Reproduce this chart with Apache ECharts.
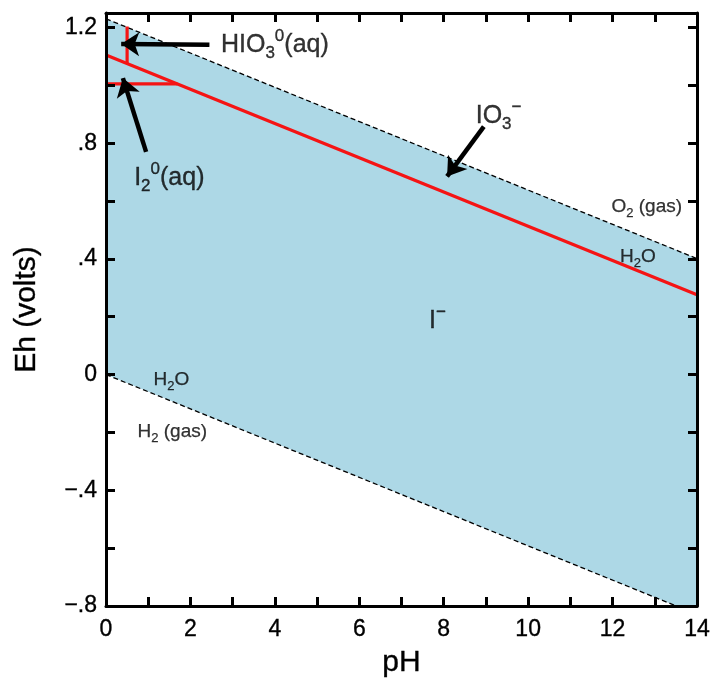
<!DOCTYPE html>
<html>
<head>
<meta charset="utf-8">
<script src="https://cdn.jsdelivr.net/npm/echarts@6/dist/echarts.min.js"></script>
<style>
html,body{margin:0;padding:0;background:#fff;}
#chart{width:710px;height:678px;}
</style>
</head>
<body>
<div id="chart"></div>
<script>
// ---- data ----
const phEnds = [0, 14];                 // pH at the two ends of straight boundaries
const o2WaterEh = [1.23, 0.401];        // upper water stability limit (O2/H2O)
const h2WaterEh = [0, -0.829];          // lower water stability limit (H2O/H2)
const redMainPh = [0, 14];
const redMainEh = [1.105, 0.276];       // IO3- / I- boundary
const redHorizPh = [0, 1.69];
const redHorizEh = [1.005, 1.005];      // I2(aq) boundary
const redVertPh = [0.5, 0.5];
const redVertEh = [1.075, 1.203];       // HIO3 / IO3- boundary
const xTicks = [0, 2, 4, 6, 8, 10, 12, 14];
const arrowHIO3 = [[2.45, 1.14], [0.36, 1.143]];
const arrowI2 = [[0.95, 0.77], [0.4, 1.025]];
const arrowIO3 = [[8.95, 0.857], [8.08, 0.685]];
const bigLabels = [
  [4.0, 1.14, 'HIO{sub|3}{sup|0}(aq)'],
  [1.5, 0.68, 'I{sub|2}{sup|0}(aq)'],
  [9.3, 0.893, 'IO{sub|3}{sup|−}'],
  [7.85, 0.185, 'I{sup|−}']
];
const smallLabels = [
  [12.81, 0.58, 'O{ssub|2} (gas)'],
  [12.6, 0.408, 'H{ssub|2}O'],
  [1.55, -0.017, 'H{ssub|2}O'],
  [1.57, -0.197, 'H{ssub|2} (gas)']
];

// ---- build ----
const FONT = 'Liberation Sans, Arial, Helvetica, sans-serif';
const fillColor = '#add8e6';
const redColor = '#f51414';
const TB = { textBorderColor: '#000', textBorderWidth: 0.35 };

function pairs(xs, ys) { return xs.map((x, i) => [x, ys[i]]); }

function fmtY(v) {
  const k = v / 0.4;
  if (Math.abs(k - Math.round(k)) > 1e-6) return '';
  if (v > 1.21) return '';
  if (Math.abs(v) < 1e-9) return '0';
  const s = Math.abs(v).toFixed(1).replace(/^0/, '');
  return (v < 0 ? '\u2212' : '') + s;
}

const tickStyle = { show: true, inside: true, length: 9, lineStyle: { color: '#000', width: 3 } };
const lineStyle = { show: true, onZero: false, lineStyle: { color: '#000', width: 3 } };

const richBig = {
  n: Object.assign({ fontSize: 25, fontFamily: FONT, color: '#000', verticalAlign: 'middle', lineHeight: 34 }, TB),
  sub: Object.assign({ fontSize: 17, fontFamily: FONT, color: '#000', verticalAlign: 'bottom', lineHeight: 34 }, TB),
  sup: Object.assign({ fontSize: 17, fontFamily: FONT, color: '#000', verticalAlign: 'top', lineHeight: 34 }, TB)
};
const richSmall = {
  s: Object.assign({ fontSize: 19, fontFamily: FONT, color: '#000', verticalAlign: 'middle', lineHeight: 26 }, TB, { textBorderWidth: 0.25 }),
  ssub: Object.assign({ fontSize: 13, fontFamily: FONT, color: '#000', verticalAlign: 'bottom', lineHeight: 26 }, TB, { textBorderWidth: 0.25 })
};

function wrapRich(str, base) {
  return str.split(/(\{[a-z]+\|[^}]*\})/).filter(s => s.length).map(s =>
    s.startsWith('{') ? s : '{' + base + '|' + s + '}').join('');
}

const arrowLine = (pts) => [{ coord: pts[0] }, { coord: pts[1] }];

const chart = echarts.init(document.getElementById('chart'), null, { renderer: 'canvas' });
chart.setOption({
  backgroundColor: '#fff',
  animation: false,
  grid: { left: 106, right: 13, top: 13, bottom: 72, containLabel: false, outerBoundsMode: 'none' },
  xAxis: [
    {
      type: 'value', min: 0, max: 14, interval: 1, position: 'bottom', z: 10,
      axisLine: lineStyle, axisTick: tickStyle, splitLine: { show: false },
      axisLabel: Object.assign({
        color: '#000', fontSize: 23, fontFamily: FONT, margin: 12,
        formatter: v => xTicks.indexOf(v) >= 0 ? String(v) : ''
      }, TB),
      name: 'pH', nameLocation: 'middle', nameGap: 42,
      nameTextStyle: Object.assign({ color: '#000', fontSize: 30, fontFamily: FONT }, TB)
    },
    {
      type: 'value', min: 0, max: 14, interval: 1, position: 'top', z: 10,
      axisLine: lineStyle, axisTick: tickStyle, splitLine: { show: false },
      axisLabel: { show: false }
    }
  ],
  yAxis: [
    {
      type: 'value', min: -0.8, max: 1.25, interval: 0.2, position: 'left', z: 10,
      axisLine: lineStyle, axisTick: tickStyle, splitLine: { show: false },
      axisLabel: Object.assign({ color: '#000', fontSize: 23, fontFamily: FONT, margin: 9, formatter: fmtY }, TB),
      name: 'Eh (volts)', nameLocation: 'middle', nameGap: 64,
      nameTextStyle: Object.assign({ color: '#000', fontSize: 30, fontFamily: FONT }, TB)
    },
    {
      type: 'value', min: -0.8, max: 1.25, interval: 0.2, position: 'right', z: 10,
      axisLine: lineStyle, axisTick: tickStyle, splitLine: { show: false },
      axisLabel: { show: false }
    }
  ],
  series: [
    {
      type: 'line', data: pairs(phEnds, o2WaterEh), symbol: 'none', z: 1, silent: true,
      lineStyle: { width: 0 },
      areaStyle: { color: fillColor, opacity: 1, origin: 'start' }
    },
    {
      type: 'line', data: pairs(phEnds, h2WaterEh), symbol: 'none', z: 1.5, silent: true,
      lineStyle: { width: 0 },
      areaStyle: { color: '#fff', opacity: 1, origin: 'start' }
    },
    {
      type: 'line', data: pairs(phEnds, o2WaterEh), symbol: 'none', z: 2, silent: true,
      lineStyle: { color: '#000', width: 1.3, type: [5, 3] }
    },
    {
      type: 'line', data: pairs(phEnds, h2WaterEh), symbol: 'none', z: 2, silent: true,
      lineStyle: { color: '#000', width: 1.3, type: [5, 3] }
    },
    { type: 'line', data: pairs(redMainPh, redMainEh), symbol: 'none', z: 3, lineStyle: { color: redColor, width: 3.2 } },
    { type: 'line', data: pairs(redHorizPh, redHorizEh), symbol: 'none', z: 3, lineStyle: { color: redColor, width: 3.2 } },
    { type: 'line', data: pairs(redVertPh, redVertEh), symbol: 'none', z: 3, lineStyle: { color: redColor, width: 3.2 } },
    {
      type: 'line', data: [], z: 4,
      markLine: {
        silent: true, animation: false,
        symbol: ['none', 'arrow'], symbolSize: 18,
        label: { show: false },
        lineStyle: { color: '#000', width: 4.5, type: 'solid', opacity: 1 },
        emphasis: { disabled: true },
        data: [arrowLine(arrowHIO3), arrowLine(arrowI2), arrowLine(arrowIO3)]
      }
    },
    {
      type: 'scatter', data: bigLabels, symbolSize: 0, z: 5, silent: true,
      label: {
        show: true, position: 'inside', color: '#000',
        formatter: p => wrapRich(p.data[2], 'n'),
        rich: richBig
      }
    },
    {
      type: 'scatter', data: smallLabels, symbolSize: 0, z: 5, silent: true,
      label: {
        show: true, position: 'inside', color: '#000',
        formatter: p => wrapRich(p.data[2], 's'),
        rich: richSmall
      }
    }
  ]
});
</script>
</body>
</html>
